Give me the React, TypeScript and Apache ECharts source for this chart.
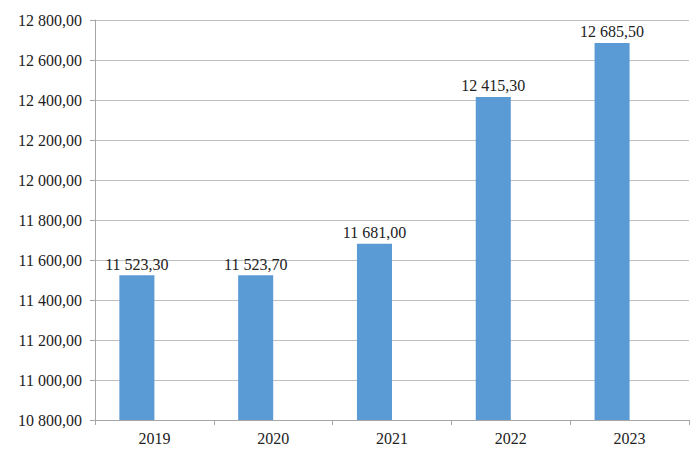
import React, { useEffect, useRef } from "react";
import * as echarts from "echarts";

const categories = ["2019", "2020", "2021", "2022", "2023"];
const values = [11523.3, 11523.7, 11681.0, 12415.3, 12685.5];
const emptySeries = [null, null, null, null, null];

function fmt(v: number): string {
  const fixed = v.toFixed(2);
  const [intPart, dec] = fixed.split(".");
  const withSpace = intPart.replace(/\B(?=(\d{3})+(?!\d))/g, " ");
  return withSpace + "," + dec;
}

export default function App() {
  const ref = useRef<HTMLDivElement>(null);
  useEffect(() => {
    if (!ref.current) return;
    const chart = echarts.init(ref.current, null, { renderer: "svg" });
    const font = "Liberation Serif";
    chart.setOption({
      animation: false,
      backgroundColor: "#ffffff",
      textStyle: { fontFamily: font },
      grid: { left: 95, right: 11, top: 20, bottom: 35, containLabel: false },
      xAxis: {
        type: "category",
        data: categories,
        axisLine: { show: true, lineStyle: { color: "#a6a6a6", width: 1 } },
        axisTick: { show: true, alignWithLabel: false, length: 5, lineStyle: { color: "#a6a6a6" } },
        axisLabel: { color: "#222", fontFamily: font, fontSize: 16, margin: 10 },
        splitLine: { show: false },
      },
      yAxis: {
        type: "value",
        min: 10800,
        max: 12800,
        interval: 200,
        axisLine: { show: true, lineStyle: { color: "#a6a6a6", width: 1 } },
        axisTick: { show: true, length: 5, lineStyle: { color: "#a6a6a6" } },
        axisLabel: {
          color: "#222",
          fontFamily: font,
          fontSize: 16,
          margin: 13,
          formatter: (v: number) => fmt(v),
        },
        splitLine: { show: true, lineStyle: { color: "#bfbfbf", width: 1 } },
      },
      series: [
        {
          type: "bar",
          data: values,
          barGap: "0%",
          barCategoryGap: "41%",
          itemStyle: { color: "#5b9bd5" },
          label: {
            show: true,
            position: "top",
            distance: 3,
            color: "#222",
            fontFamily: font,
            fontSize: 16,
            formatter: (p: any) => fmt(p.value),
          },
        },
        {
          type: "bar",
          data: emptySeries,
          barGap: "0%",
          barCategoryGap: "41%",
          itemStyle: { color: "#ed7d31" },
        },
      ],
    });
    return () => chart.dispose();
  }, []);
  return (
    <div
      ref={ref}
      style={{ position: "absolute", left: 0, top: 0, width: 700, height: 455 }}
    />
  );
}
